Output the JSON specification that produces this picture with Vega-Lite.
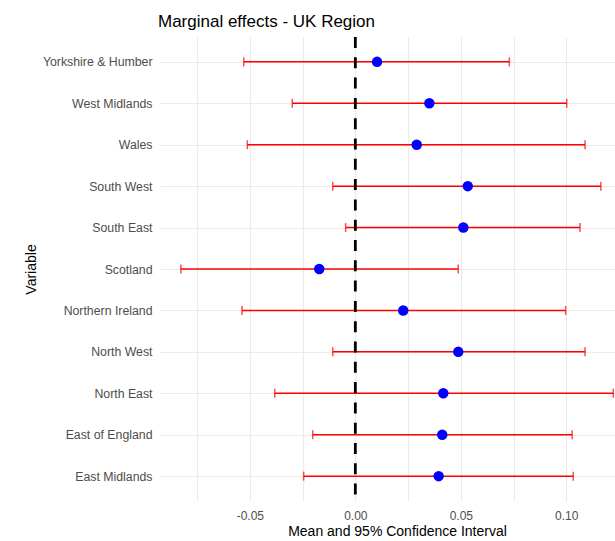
{
  "$schema": "https://vega.github.io/schema/vega-lite/v6.json",
  "width": 455,
  "height": 464,
  "autosize": "none",
  "padding": {"left": 160, "top": 37, "right": 0, "bottom": 40},
  "background": "white",
  "config": {"font": "Liberation Sans", "view": {"stroke": null}},
  "title": {"text": "Marginal effects - UK Region", "anchor": "start", "frame": "group", "fontSize": 17, "fontWeight": "normal", "color": "#000000", "offset": 5, "dx": -2},
  "data": {"values": [
    {"region": "Yorkshire & Humber", "mean": 0.0103, "low": -0.0529, "high": 0.0730},
    {"region": "West Midlands", "mean": 0.0351, "low": -0.0299, "high": 0.1002},
    {"region": "Wales", "mean": 0.0291, "low": -0.0512, "high": 0.1089},
    {"region": "South West", "mean": 0.0533, "low": -0.0107, "high": 0.1164},
    {"region": "South East", "mean": 0.0512, "low": -0.0046, "high": 0.1065},
    {"region": "Scotland", "mean": -0.0171, "low": -0.0827, "high": 0.0488},
    {"region": "Northern Ireland", "mean": 0.0227, "low": -0.0537, "high": 0.0997},
    {"region": "North West", "mean": 0.0488, "low": -0.0107, "high": 0.1089},
    {"region": "North East", "mean": 0.0417, "low": -0.0382, "high": 0.1223},
    {"region": "East of England", "mean": 0.0412, "low": -0.0202, "high": 0.1028},
    {"region": "East Midlands", "mean": 0.0395, "low": -0.0245, "high": 0.1033}
  ]},
  "layer": [
    {
      "mark": {"type": "rule", "color": "#FF0000", "strokeWidth": 1.5},
      "encoding": {
        "y": {"field": "region", "type": "nominal",
          "sort": ["Yorkshire & Humber", "West Midlands", "Wales", "South West", "South East", "Scotland", "Northern Ireland", "North West", "North East", "East of England", "East Midlands"],
          "scale": {"type": "point", "padding": 0.6},
          "axis": {"title": "Variable", "domain": false, "ticks": false, "labelFontSize": 12.3, "labelColor": "#4D4D4D", "labelPadding": 8, "titleFontSize": 14, "titleFontWeight": "normal", "titleColor": "#000000", "grid": true, "gridColor": "#EBEBEB", "gridWidth": 1.2, "titleX": -129, "titleY": 232, "titleBaseline": "middle", "titleAnchor": "middle"}},
        "x": {"field": "low", "type": "quantitative",
          "scale": {"domain": [-0.0926, 0.1231], "nice": false, "zero": false},
          "axis": {"title": "Mean and 95% Confidence Interval", "values": [-0.075, -0.05, -0.025, 0, 0.025, 0.05, 0.075, 0.1],
            "labelExpr": "datum.value == -0.05 ? '-0.05' : datum.value == 0 ? '0.00' : datum.value == 0.05 ? '0.05' : datum.value == 0.1 ? '0.10' : ''",
            "domain": false, "ticks": false, "labelFontSize": 12, "labelColor": "#4D4D4D", "labelPadding": 9, "titleFontSize": 14, "titleFontWeight": "normal", "titleColor": "#000000", "titleX": 237, "titlePadding": 3, "grid": true, "gridColor": "#EBEBEB", "gridWidth": 1.2}},
        "x2": {"field": "high"}
      }
    },
    {
      "mark": {"type": "tick", "color": "#FF0000", "thickness": 1.5, "size": 9, "orient": "vertical"},
      "encoding": {
        "y": {"field": "region", "type": "nominal", "sort": ["Yorkshire & Humber", "West Midlands", "Wales", "South West", "South East", "Scotland", "Northern Ireland", "North West", "North East", "East of England", "East Midlands"]},
        "x": {"field": "low", "type": "quantitative"}
      }
    },
    {
      "mark": {"type": "tick", "color": "#FF0000", "thickness": 1.5, "size": 9, "orient": "vertical"},
      "encoding": {
        "y": {"field": "region", "type": "nominal", "sort": ["Yorkshire & Humber", "West Midlands", "Wales", "South West", "South East", "Scotland", "Northern Ireland", "North West", "North East", "East of England", "East Midlands"]},
        "x": {"field": "high", "type": "quantitative"}
      }
    },
    {
      "mark": {"type": "point", "filled": true, "color": "#0000FF", "size": 110, "opacity": 1},
      "encoding": {
        "y": {"field": "region", "type": "nominal", "sort": ["Yorkshire & Humber", "West Midlands", "Wales", "South West", "South East", "Scotland", "Northern Ireland", "North West", "North East", "East of England", "East Midlands"]},
        "x": {"field": "mean", "type": "quantitative"}
      }
    },
    {
      "data": {"values": [{}]},
      "mark": {"type": "rule", "color": "#000000", "strokeWidth": 2.8, "strokeDash": [11, 9.3]},
      "encoding": {"x": {"datum": 0, "type": "quantitative"}}
    }
  ]
}
